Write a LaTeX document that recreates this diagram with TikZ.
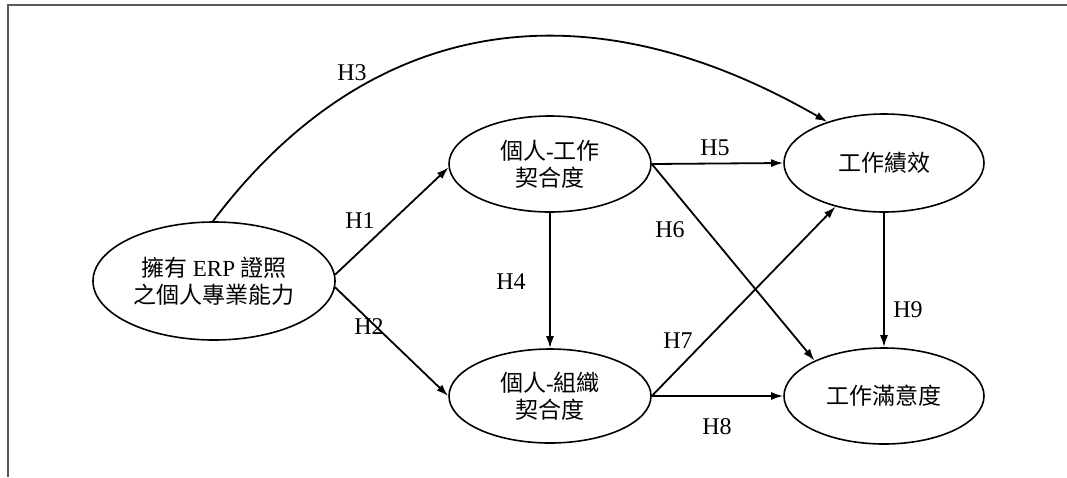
\documentclass[tikz,border=0pt]{standalone}
\usepackage{fontspec}
\setmainfont{Liberation Serif}
\newfontfamily\cjk{Noto Sans CJK TC}
\usetikzlibrary{shapes.geometric,arrows.meta}
\begin{document}
\begin{tikzpicture}[x=1pt,y=-1pt,
  oval/.style={draw,ellipse,line width=1.6pt,inner sep=0pt,align=center,font=\fontsize{23}{27}\selectfont},
  link/.style={line width=1.8pt,-{Latex[length=12pt,width=8pt]}},
  hlab/.style={font=\fontsize{24}{28}\selectfont,inner sep=0pt},
  frameline/.style={line width=1.3pt,draw=black!65}]
\useasboundingbox (0,0) rectangle (1067,477);
\draw[frameline] (1067,5) -- (8,5) -- (8,477);

\node[oval,minimum width=242pt,minimum height=118pt] (A) at (214,281)
  {{\cjk 擁有} ERP {\cjk 證照}\\{\cjk 之個人專業能力}};
\node[oval,minimum width=202pt,minimum height=96pt] (B) at (550,164)
  {{\cjk 個人}-{\cjk 工作}\\{\cjk 契合度}};
\node[oval,minimum width=202pt,minimum height=94pt] (C) at (550,396)
  {{\cjk 個人}-{\cjk 組織}\\{\cjk 契合度}};
\node[oval,minimum width=200pt,minimum height=98pt] (D) at (884,163)
  {\cjk 工作績效};
\node[oval,minimum width=200pt,minimum height=96pt] (E) at (884,396)
  {\cjk 工作滿意度};

\draw[link] (A.3) -- (B.182);
\draw[link] (A.-3) -- (C.180);
\draw[link] (A.91) .. controls (363,22) and (576,-23) .. (D.144);
\draw[link] (B.south) -- (C.north);
\draw[link] (B.east) -- (D.west);
\draw[link] (B.east) -- (E.153);
\draw[link] (C.east) -- (D.222);
\draw[link] (C.east) -- (E.west);
\draw[link] (D.south) -- (E.north);

\node[hlab] (h3) at (352,73) {H3};
\node[hlab] (h1) at (360,221) {H1};
\node[hlab] (h2) at (369,327) {H2};
\node[hlab] (h4) at (511,282) {H4};
\node[hlab] (h5) at (715,148) {H5};
\node[hlab] (h6) at (670,230) {H6};
\node[hlab] (h7) at (678,341) {H7};
\node[hlab] (h8) at (717,427) {H8};
\node[hlab] (h9) at (908,310) {H9};
\end{tikzpicture}
\end{document}
